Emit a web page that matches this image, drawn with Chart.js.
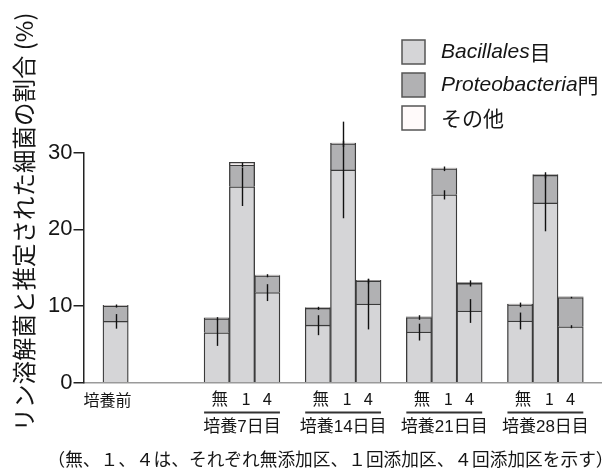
<!DOCTYPE html>
<html lang="ja">
<head>
<meta charset="utf-8">
<title>リン溶解菌と推定された細菌の割合</title>
<script src="https://cdn.jsdelivr.net/npm/chart.js@4/dist/chart.umd.min.js"></script>
<style>
  html, body { margin: 0; padding: 0; background: #ffffff; }
  #wrap { position: relative; width: 609px; height: 472px; }
</style>
</head>
<body>
<div id="wrap"><canvas id="c" width="609" height="472"></canvas></div>
<script>
// Sampling periods and treatments (無 = none, 1 = one addition, 4 = four additions)
const periods = ['培養前', '培養7日目', '培養14日目', '培養21日目', '培養28日目'];
const treatments = ['無', '1', '4'];
const seriesNames = ['Bacillales目', 'Proteobacteria門', 'その他'];

// Share (%) per bar: 培養前, then 無/1/4 for days 7, 14, 21, 28
const bacillales     = [8.0, 6.5, 25.55, 11.75, 7.5, 27.75, 10.25, 6.6, 24.5, 9.35, 8.05, 23.45, 7.3];
const proteobacteria = [2.0, 1.85, 2.85, 2.2, 2.2, 3.4, 3.0, 1.9, 3.4, 3.6, 2.1, 3.6, 3.8];
const others         = [0.1, 0.1, 0.35, 0.1, 0.1, 0.1, 0.1, 0.1, 0.1, 0.1, 0.1, 0.1, 0.1];
const bacillalesErr     = [0.95, 1.7, 2.5, 1.1, 1.3, 6.3, 3.3, 1.1, 0.6, 1.55, 1.1, 3.7, 0.2];
const proteobacteriaErr = [0.2, 0.2, 0.3, 0.2, 0.2, 0.4, 0.3, 0.3, 0.3, 0.4, 0.3, 0.4, 0.1];
const yTicks = [0, 10, 20, 30];

const footnote = '（無、１、４は、それぞれ無添加区、１回添加区、４回添加区を示す）';
const yTitle = 'リン溶解菌と推定された細菌の割合 (%)';

// Slot index of each bar: 培養前 alone, a wide gap, then groups of three with one-slot gaps
const slots = [0];
for (let g = 1; g < periods.length; g++) {
  for (let t = 0; t < treatments.length; t++) slots.push(4 + (g - 1) * 4 + t);
}
const X_MIN = -1.27, X_MAX = 19.22;

const FONT = '"Liberation Sans", "Noto Sans CJK JP", sans-serif';
const JP = '"Noto Sans CJK JP", "Liberation Sans", sans-serif';
const INK = '#151515';
const fills = ['#d5d5d7', '#b1b1b3', '#fffafa'];
const edge = '#3a3a3a';

const toPoints = arr => arr.map((v, i) => ({ x: slots[i], y: v }));

// Error bars at the top of the Bacillales and Proteobacteria segments
const errorBars = {
  id: 'errorBars',
  afterDatasetsDraw(chart) {
    const ctx = chart.ctx, ys = chart.scales.y;
    const meta = chart.getDatasetMeta(0);
    ctx.save();
    ctx.strokeStyle = '#111';
    ctx.lineWidth = 1.4;
    bacillales.forEach((b, i) => {
      const x = Math.round(meta.data[i].x) + 0.5;
      const top = b + proteobacteria[i];
      [[b, bacillalesErr[i]], [top, proteobacteriaErr[i]]].forEach(([v, e]) => {
        ctx.beginPath();
        ctx.moveTo(x, ys.getPixelForValue(v - e));
        ctx.lineTo(x, ys.getPixelForValue(v + e));
        ctx.stroke();
      });
    });
    ctx.restore();
  }
};

// Category labels, group underlines, legend, axis title and footnote
const annotations = {
  id: 'annotations',
  afterDraw(chart) {
    const ctx = chart.ctx, xs = chart.scales.x;
    const half = (xs.getPixelForValue(1) - xs.getPixelForValue(0)) / 2;
    ctx.save();
    ctx.fillStyle = INK;
    ctx.textBaseline = 'middle';
    ctx.textAlign = 'center';

    // 培養前
    ctx.font = '16px ' + JP;
    ctx.fillText(periods[0], xs.getPixelForValue(slots[0]) - 8, 400);

    // Treatment labels, underline and period label for each group
    const nudge = [3, 4, 0];
    for (let g = 1; g < periods.length; g++) {
      const first = slots[1 + (g - 1) * 3];
      const idx = [first, first + 1, first + 2];
      ctx.font = '16.5px ' + JP;
      idx.forEach((s, t) => ctx.fillText(treatments[t], xs.getPixelForValue(s) + nudge[t], 399));
      const x0 = xs.getPixelForValue(idx[0]) - half;
      const x1 = xs.getPixelForValue(idx[2]) + half;
      ctx.strokeStyle = '#333';
      ctx.lineWidth = 2;
      ctx.beginPath();
      ctx.moveTo(x0, 412.5);
      ctx.lineTo(x1, 412.5);
      ctx.stroke();
      ctx.font = '17px ' + FONT;
      ctx.fillText(periods[g], xs.getPixelForValue(idx[1]), 427);
    }

    // Footnote, centred under the plot
    ctx.font = '17.7px ' + JP;
    ctx.textAlign = 'center';
    ctx.fillText(footnote, 330.5, 459);

    // Rotated y-axis title
    ctx.save();
    ctx.translate(24, 222);
    ctx.rotate(-Math.PI / 2);
    ctx.textAlign = 'center';
    ctx.font = '23.5px ' + JP;
    ctx.fillText(yTitle, 0, 0);
    ctx.restore();

    // Legend
    const lx = 402, ly = [40, 73, 106];
    chart.data.datasets.forEach((ds, i) => {
      ctx.fillStyle = ds.backgroundColor;
      ctx.fillRect(lx, ly[i], 23, 24);
      ctx.strokeStyle = '#555';
      ctx.lineWidth = 1.5;
      ctx.strokeRect(lx, ly[i], 23, 24);
      const m = ds.label.match(/^([A-Za-z]+)(.*)$/);
      let tx = 441;
      const ty = ly[i] + 12.5;
      ctx.fillStyle = INK;
      ctx.textAlign = 'left';
      if (m) {
        ctx.font = 'italic 21px ' + FONT;
        ctx.fillText(m[1], tx, ty);
        tx += ctx.measureText(m[1]).width;
        ctx.font = '21px ' + JP;
        ctx.fillText(m[2], tx, ty);
      } else {
        ctx.font = '21px ' + JP;
        ctx.fillText(ds.label, tx, ty);
      }
    });
    ctx.restore();
  }
};

const datasets = [bacillales, proteobacteria, others].map((arr, k) => ({
  label: seriesNames[k],
  data: toPoints(arr),
  backgroundColor: fills[k],
  borderColor: edge,
  borderWidth: 1.3,
  clip: false
}));

new Chart(document.getElementById('c'), {
  type: 'bar',
  data: { datasets },
  options: {
    responsive: false,
    animation: false,
    devicePixelRatio: 1,
    barPercentage: 1,
    categoryPercentage: 1,
    layout: { padding: { top: 152.7, bottom: 89.3, left: 0, right: 7.5 } },
    plugins: { legend: { display: false }, tooltip: { enabled: false } },
    scales: {
      x: {
        type: 'linear',
        stacked: true,
        offset: false,
        bounds: 'data',
        min: X_MIN,
        max: X_MAX,
        afterDataLimits: s => { s.min = X_MIN; s.max = X_MAX; },
        afterBuildTicks: s => { s.ticks = slots.map(v => ({ value: v })); },
        ticks: { display: false },
        grid: { display: false, drawTicks: false, offset: false },
        border: { color: '#9a9a9a', width: 1.5 }
      },
      y: {
        stacked: true,
        min: 0,
        max: 30,
        afterBuildTicks: s => { s.ticks = yTicks.map(v => ({ value: v })); },
        afterFit: s => { s.width = 83.5; },
        ticks: { font: { family: FONT, size: 22 }, color: INK, padding: 1 },
        grid: { drawOnChartArea: false, drawTicks: true, tickLength: 10, color: '#222', lineWidth: 1.5 },
        border: { color: '#222', width: 1.5 }
      }
    }
  },
  plugins: [errorBars, annotations]
});
</script>
</body>
</html>
